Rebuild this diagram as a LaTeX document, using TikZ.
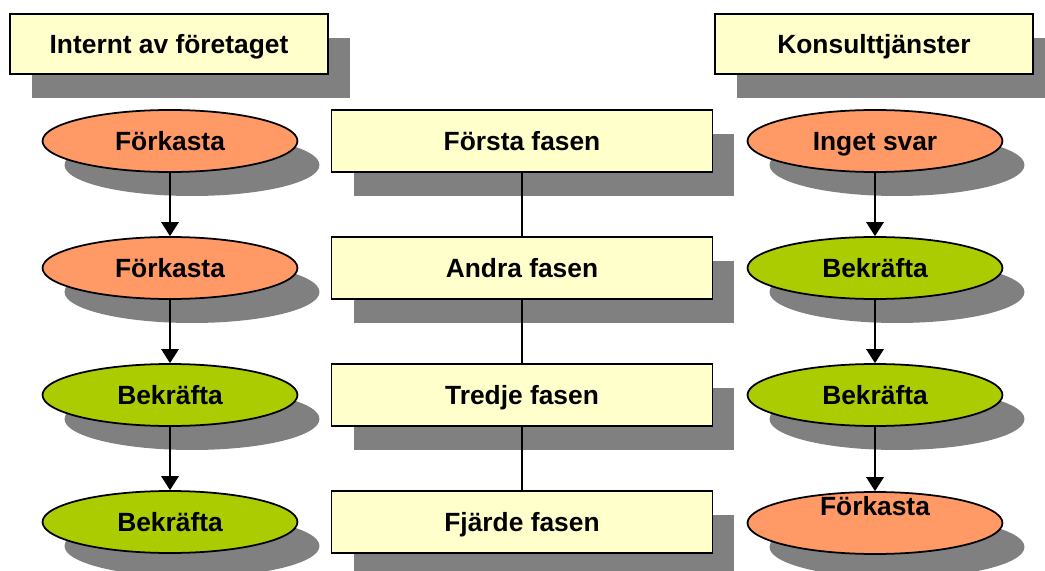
\documentclass[tikz,border=0pt]{standalone}
\usepackage{fontspec}
\setmainfont{Liberation Sans}
\usepackage{xcolor}
\usepackage{tikz}
\usetikzlibrary{arrows.meta, positioning, shapes.geometric, shadows}

\definecolor{paleyellow}{HTML}{FFFFCC}
\definecolor{rejectorange}{HTML}{FF9966}
\definecolor{acceptgreen}{HTML}{AACC00}
\definecolor{shadowgray}{HTML}{808080}

\begin{document}
\begin{tikzpicture}[
				x=0.02cm, y=-0.02cm,
				every node/.style={font=\fontsize{15}{18}\selectfont\bfseries, line width=1pt, text height=10.7pt, text depth=0pt},
				shade/.style={drop shadow={shadow xshift=0.44cm, shadow yshift=-0.48cm, fill=shadowgray, opacity=1}},
				header/.style={draw, rectangle, fill=paleyellow, minimum width=6.36cm, minimum height=1.2cm, shade},
				phase/.style={draw, rectangle, fill=paleyellow, minimum width=7.62cm, minimum height=1.24cm, shade},
				answer/.style={draw, ellipse, minimum width=5.1cm, minimum height=1.24cm, inner sep=0pt, shade},
				reject/.style={answer, fill=rejectorange},
				accept/.style={answer, fill=acceptgreen},
				flow/.style={-{Triangle[width=10pt, length=8pt]}, line width=0.8pt},
				link/.style={line width=0.8pt}
				]
				\useasboundingbox (0,0) rectangle (1045,571);

				% column headers
				\node[header] (internal) at (169,44) {Internt av företaget};
				\node[header] (consult) at (874,44) {Konsulttjänster};

				% phases
				\node[phase] (p1) at (522,141) {Första fasen};
				\node[phase] (p2) at (522,268) {Andra fasen};
				\node[phase] (p3) at (522,395) {Tredje fasen};
				\node[phase] (p4) at (522,522) {Fjärde fasen};

				% internal answers
				\node[reject] (i1) at (170,141) {Förkasta};
				\node[reject] (i2) at (170,268) {Förkasta};
				\node[accept] (i3) at (170,395) {Bekräfta};
				\node[accept] (i4) at (170,522) {Bekräfta};

				% consultant answers
				\node[reject] (c1) at (875,141) {Inget svar};
				\node[accept] (c2) at (875,268) {Bekräfta};
				\node[accept] (c3) at (875,395) {Bekräfta};
				\node[reject, label={[yshift=0.34cm]center:Förkasta}] (c4) at (875,523) {};

				\foreach \a/\b in {p1/p2, p2/p3, p3/p4}
					\draw[link] (\a.south) -- (\b.north);
				\foreach \a/\b in {i1/i2, i2/i3, i3/i4, c1/c2, c2/c3, c3/c4}
					\draw[flow] (\a.south) -- (\b.north);
			\end{tikzpicture}
\end{document}
